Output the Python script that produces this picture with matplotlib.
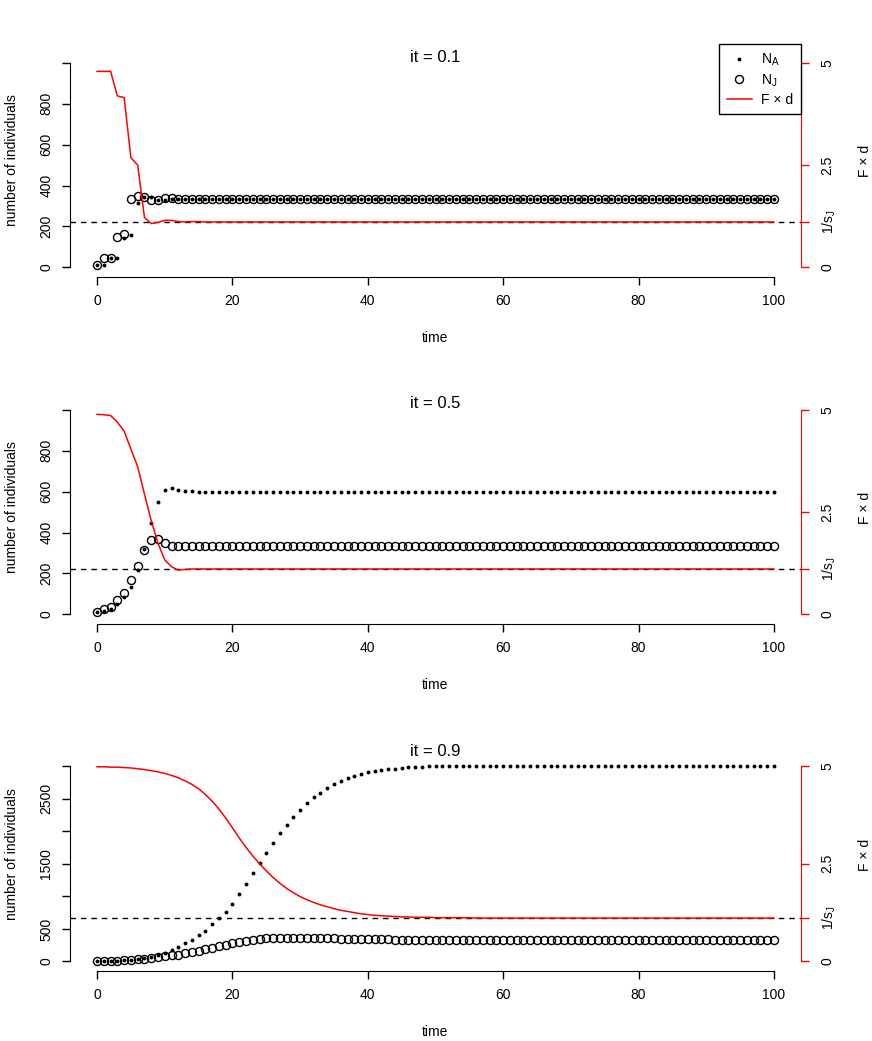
import matplotlib
matplotlib.use("Agg")
import matplotlib.pyplot as plt
from matplotlib.lines import Line2D

plt.rcParams['font.family'] = ['Liberation Sans', 'DejaVu Sans']
plt.rcParams['mathtext.fontset'] = 'custom'
plt.rcParams['mathtext.rm'] = 'Liberation Sans'
plt.rcParams['mathtext.it'] = 'Liberation Sans'

# datos
tiempo = list(range(101))
inv_sj = 1 / 0.9

na_01 = [10, 11, 45, 45, 145, 160, 317, 346, 346, 330, 330, 336, 335, 335] + [335] * 87
nj_01 = [10, 45, 45, 150, 163, 336, 351, 346, 330, 330, 341, 338, 336, 336] + [335] * 87
fd_01 = [4.79, 4.79, 4.79, 4.19, 4.15, 2.68, 2.50, 1.22, 1.07, 1.10, 1.15, 1.15,
         1.12, 1.11, 1.12, 1.12] + [1.11] * 85

na_05 = [10, 15, 26, 49, 83, 132, 217, 322, 447, 548, 607, 617, 610, 604, 601] + [600] * 86
nj_05 = [10, 24, 34, 68, 103, 168, 238, 314, 362, 369, 349, 336, 333, 335] + [335] * 87
fd_05 = [4.89, 4.88, 4.86, 4.70, 4.48, 4.04, 3.61, 2.94, 2.29, 1.74, 1.33, 1.165,
         1.08, 1.10, 1.11] + [1.11] * 86

na_09 = [10, 11, 12, 15, 20, 27, 37, 52, 72, 100, 135, 176, 225, 280, 335, 400,
         475, 570, 663, 765, 887, 1030, 1190, 1360, 1516, 1670, 1813, 1967, 2095,
         2222, 2325, 2427, 2520, 2590, 2657, 2718, 2765, 2811, 2846, 2877, 2903,
         2918, 2933, 2949, 2959, 2969, 2978, 2984, 2989, 2993, 2996, 2998, 2999] + [3000] * 48
nj_09 = [10, 10, 13, 15, 18, 27, 33, 43, 54, 64, 80, 92, 107, 123, 143, 158, 184,
         210, 235, 256, 281, 302, 322, 337, 348, 358, 363, 368, 368, 367, 365, 363,
         361, 358, 356, 353, 351, 349, 347, 345, 343, 341, 340, 338, 337, 336, 335,
         334, 333, 332, 332, 331] + [330] * 49
fd_09 = [4.98, 4.98, 4.97, 4.97, 4.96, 4.95, 4.93, 4.91, 4.88, 4.85, 4.81, 4.76,
         4.70, 4.62, 4.53, 4.42, 4.27, 4.10, 3.90, 3.67, 3.42, 3.16, 2.92, 2.70,
         2.50, 2.32, 2.15, 2.00, 1.87, 1.76, 1.66, 1.58, 1.51, 1.45, 1.40, 1.35,
         1.31, 1.28, 1.25, 1.22, 1.20, 1.18, 1.17, 1.16, 1.15, 1.14, 1.14, 1.13,
         1.13, 1.13, 1.12, 1.12, 1.12, 1.12, 1.12, 1.12] + [1.111] * 45

titulos = ['it = 0.1', 'it = 0.5', 'it = 0.9']
paneles = [(na_01, nj_01, fd_01), (na_05, nj_05, fd_05), (na_09, nj_09, fd_09)]
yticks_izq = [[0, 200, 400, 600, 800, 1000], [0, 200, 400, 600, 800, 1000],
              [0, 500, 1000, 1500, 2000, 2500, 3000]]
ylabels_izq = [['0', '200', '400', '600', '800', ''], ['0', '200', '400', '600', '800', ''],
               ['0', '500', '', '1500', '', '2500', '']]
ylim_izq = [(-47, 1092), (-47, 1092), (-146, 3430)]
ylim_der = [(-0.235, 5.46), (-0.235, 5.46), (-0.243, 5.716)]

W, H = 872, 1041
fig = plt.figure(figsize=(W / 100, H / 100), dpi=100)

FS = 10
for i in range(3):
    na, nj, fd = paneles[i]
    top = 44 + 347 * i
    ax = fig.add_axes([70 / W, 1 - (top + 233) / H, 731 / W, 233 / H])
    ax.patch.set_alpha(0)
    ax.plot(tiempo, nj, 'o', ms=5.8, mfc='none', mec='black', mew=1.0, zorder=3)
    ax.plot(tiempo, na, 'o', ms=2.8, color='black', mew=0, zorder=4)
    ax.set_xlim(-4, 104)
    ax.set_ylim(*ylim_izq[i])
    ax.set_xticks([0, 20, 40, 60, 80, 100])
    ax.set_yticks(yticks_izq[i])
    ax.set_yticklabels(ylabels_izq[i], rotation=90, va='center')
    ax.spines['top'].set_visible(False)
    ax.spines['right'].set_visible(False)
    ax.spines['left'].set_bounds(0, yticks_izq[i][-1])
    ax.spines['bottom'].set_bounds(0, 100)
    ax.tick_params(direction='out', length=6, width=1, labelsize=FS)
    ax.tick_params(axis='x', pad=6)
    ax.tick_params(axis='y', pad=6)
    ax.text(-0.079, 0.5, 'number of individuals', transform=ax.transAxes,
            rotation=90, ha='center', va='center', fontsize=FS)
    fig.text(435.5 / W, 1 - (top + 294) / H, 'time', ha='center', va='center', fontsize=FS)

    ax2 = ax.twinx()
    ax2.set_ylim(*ylim_der[i])
    ax2.axhline(inv_sj, color='black', lw=1, ls=(0, (4, 3.5)), zorder=1)
    ax2.plot(tiempo, fd, color='red', lw=1.1, zorder=2)
    for s in ['top', 'left', 'bottom']:
        ax2.spines[s].set_visible(False)
    ax2.spines['right'].set_color('red')
    ax2.spines['right'].set_bounds(0, 5)
    ax2.set_yticks([0, inv_sj, 2.5, 5])
    ax2.set_yticklabels(['0', r'$\mathregular{1/s_J}$', '2.5', '5'], rotation=90, va='center')
    ax2.tick_params(direction='out', length=6, width=1, color='red', labelsize=FS, pad=8)
    ax2.text(1.0876, 0.5, 'F × d', transform=ax.transAxes,
             rotation=90, ha='center', va='center', fontsize=FS)

    fig.text(435.5 / W, 1 - (top + 13) / H, titulos[i], ha='center', va='center', fontsize=12)

    if i == 0:
        handles = [Line2D([], [], ls='none', marker='o', ms=2.8, color='black', mew=0),
                   Line2D([], [], ls='none', marker='o', ms=5.8, mfc='none', mec='black', mew=1.0),
                   Line2D([], [], color='red', lw=1.1)]
        leg = ax2.legend(handles, [r'$\mathregular{N_A}$', r'$\mathregular{N_J}$', 'F × d'],
                         loc='upper right', borderaxespad=0, fancybox=False, edgecolor='black',
                         framealpha=1, fontsize=FS, handlelength=1.8, handletextpad=0.7,
                         labelspacing=0.3, borderpad=0.55)
        leg.get_frame().set_linewidth(1)

fig.savefig('out.png', dpi=100)
